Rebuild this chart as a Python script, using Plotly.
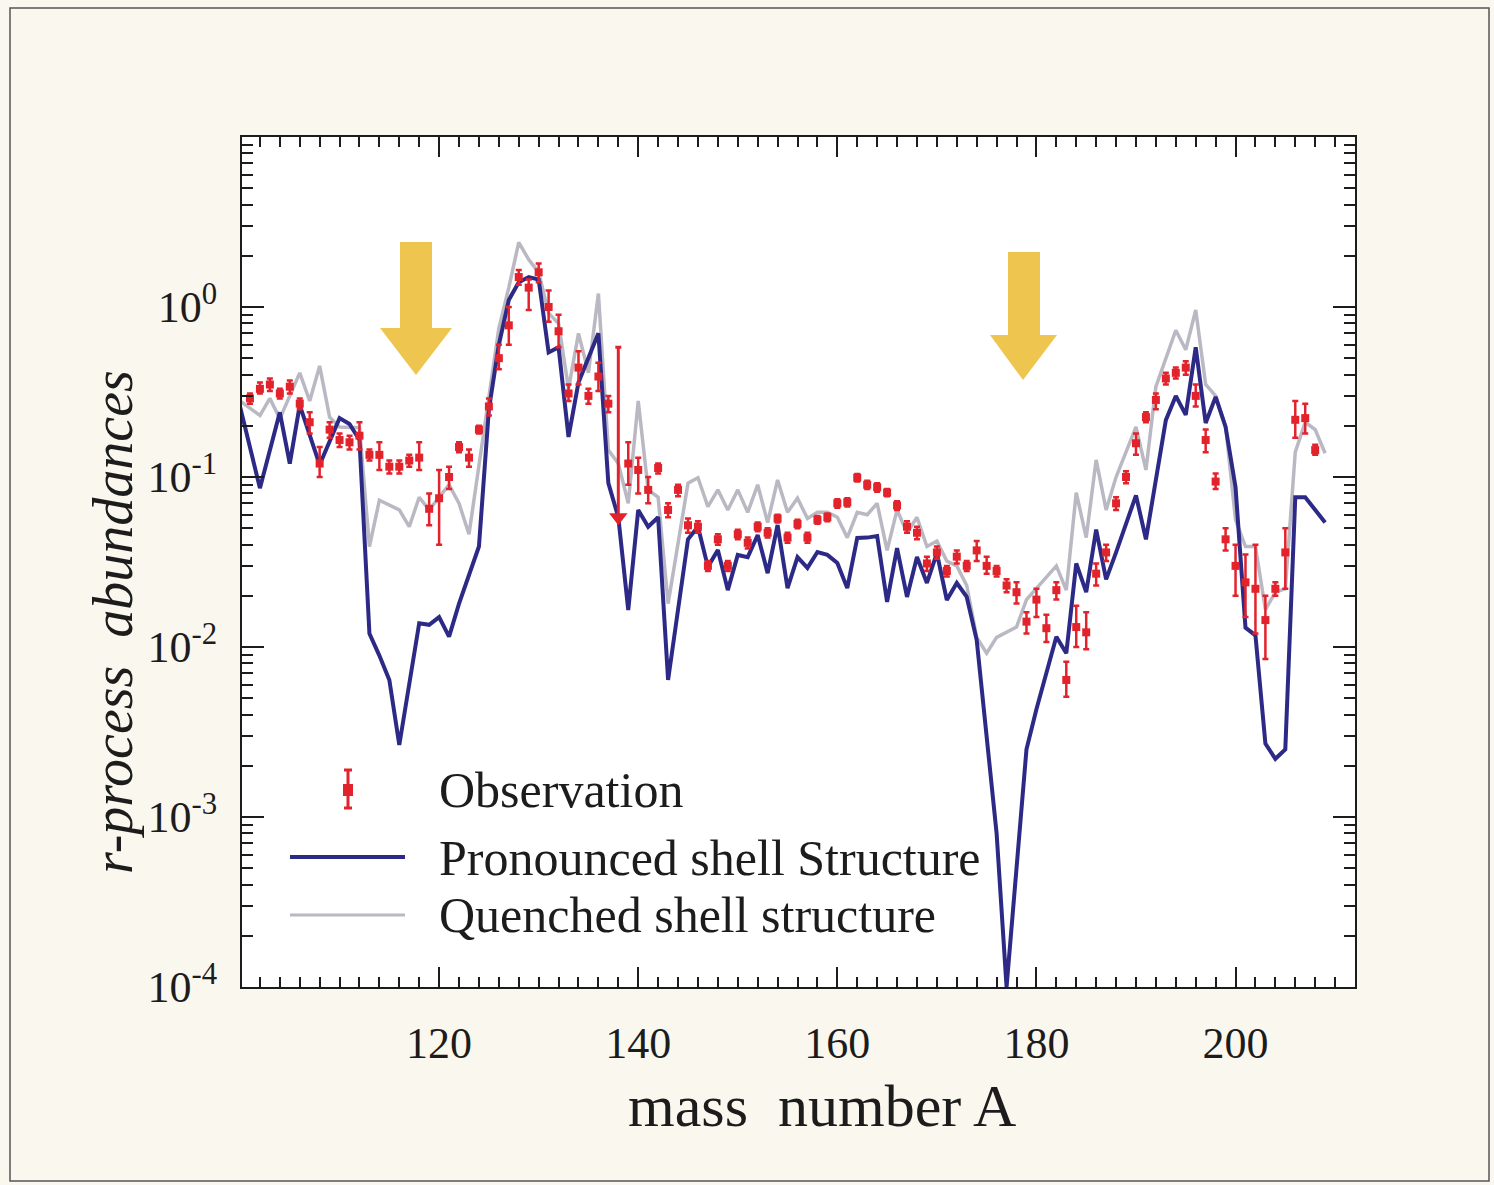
import plotly.graph_objects as go

# ---------------- data ----------------
# Pronounced shell structure (dark blue line)
pron_A = [100, 102, 104, 105, 106, 108, 110, 111, 112, 113, 114, 115, 116, 118, 119, 120, 121, 122, 124, 125,
          126, 127, 128, 129, 130, 131, 132, 133, 134, 136, 137, 138, 139, 140, 141, 142, 143, 145, 146, 147,
          148, 149, 150, 151, 152, 153, 154, 155, 156, 157, 158, 159, 160, 161, 162, 163, 164, 165, 166, 167,
          168, 169, 170, 171, 172, 173, 174, 175, 176, 177, 178, 179, 180, 182, 183, 184, 185, 186, 187, 188,
          190, 191, 193, 194, 195, 196, 197, 198, 199, 200, 201, 202, 203, 204, 205, 206, 207, 209]
pron_y = [0.26, 0.086, 0.24, 0.12, 0.265, 0.118, 0.222, 0.205, 0.165, 0.012, 0.0089, 0.0064, 0.00265, 0.0138,
          0.0135, 0.015, 0.0115, 0.018, 0.039, 0.25, 0.6, 1.1, 1.4, 1.5, 1.45, 0.54, 0.58, 0.172, 0.36, 0.70,
          0.092, 0.058, 0.0165, 0.064, 0.051, 0.058, 0.0064, 0.043, 0.051, 0.0296, 0.0372, 0.0216, 0.0348,
          0.0338, 0.0456, 0.0272, 0.0522, 0.0222, 0.0338, 0.0292, 0.0362, 0.0348, 0.0312, 0.0222, 0.0438,
          0.044, 0.045, 0.0184, 0.0382, 0.0197, 0.0338, 0.0238, 0.0357, 0.0189, 0.0238, 0.0197, 0.011, 0.0031,
          0.0008, 0.0001, 0.0005, 0.0025, 0.0043, 0.0115, 0.0092, 0.031, 0.021, 0.049, 0.025, 0.036, 0.078,
          0.043, 0.216, 0.30, 0.232, 0.58, 0.208, 0.296, 0.197, 0.087, 0.013, 0.0117, 0.0027, 0.0022, 0.0025,
          0.076, 0.076, 0.054]

# Quenched shell structure (grey line)
quen_A = [100, 102, 103, 104, 106, 107, 108, 109, 110, 112, 113, 114, 116, 117, 118, 119, 121, 122, 123, 125,
          126, 127, 128, 129, 130, 131, 132, 133, 134, 135, 136, 137, 138, 139, 140, 141, 142, 143, 145, 146,
          147, 148, 149, 150, 151, 152, 153, 154, 155, 156, 157, 158, 159, 160, 161, 162, 163, 164, 165, 166,
          167, 168, 169, 170, 171, 172, 173, 174, 175, 176, 178, 179, 180, 182, 183, 184, 185, 186, 187, 188,
          190, 191, 192, 194, 195, 196, 197, 198, 199, 200, 201, 202, 203, 204, 205, 206, 207, 208, 209]
quen_y = [0.28, 0.23, 0.29, 0.22, 0.41, 0.28, 0.45, 0.225, 0.197, 0.195, 0.039, 0.073, 0.064, 0.051, 0.076,
          0.064, 0.09, 0.07, 0.046, 0.31, 0.75, 1.3, 2.4, 1.9, 1.6, 0.92, 0.8, 0.33, 0.7, 0.41, 1.2, 0.144,
          0.12, 0.07, 0.28, 0.084, 0.076, 0.018, 0.092, 0.099, 0.067, 0.084, 0.064, 0.084, 0.062, 0.09, 0.054,
          0.096, 0.062, 0.075, 0.057, 0.062, 0.062, 0.058, 0.044, 0.062, 0.06, 0.07, 0.037, 0.064, 0.047, 0.058,
          0.039, 0.042, 0.032, 0.03, 0.023, 0.0114, 0.0092, 0.0114, 0.0131, 0.019, 0.022, 0.030, 0.0216, 0.081,
          0.044, 0.126, 0.064, 0.1, 0.197, 0.11, 0.34, 0.73, 0.56, 0.96, 0.35, 0.3, 0.2, 0.056, 0.039, 0.039,
          0.0166, 0.021, 0.022, 0.14, 0.21, 0.19, 0.138]

# Observation (red points with error bars)
obs_A = [101, 102, 103, 104, 105, 106, 107, 108, 109, 110, 111, 112, 113, 114, 115, 116, 117, 118, 119, 120,
         121, 122, 123, 124, 125, 126, 127, 128, 129, 130, 131, 132, 133, 134, 135, 136, 137, 139, 140, 141,
         142, 143, 144, 145, 146, 147, 148, 149, 150, 151, 152, 153, 154, 155, 156, 157, 158, 159, 160, 161,
         162, 163, 164, 165, 166, 167, 168, 169, 170, 171, 172, 173, 174, 175, 176, 177, 178, 179, 180, 181,
         182, 183, 184, 185, 186, 187, 188, 189, 190, 191, 192, 193, 194, 195, 196, 197, 198, 199, 200, 201,
         202, 203, 204, 205, 206, 207, 208]
obs_y = [0.29, 0.33, 0.35, 0.31, 0.34, 0.27, 0.21, 0.12, 0.19, 0.165, 0.16, 0.175, 0.135, 0.135, 0.115, 0.115,
         0.125, 0.13, 0.065, 0.075, 0.10, 0.15, 0.13, 0.19, 0.26, 0.50, 0.78, 1.5, 1.3, 1.6, 1.0, 0.72, 0.31,
         0.44, 0.30, 0.39, 0.27, 0.12, 0.11, 0.084, 0.113, 0.064, 0.084, 0.052, 0.051, 0.030, 0.043, 0.030,
         0.046, 0.041, 0.051, 0.047, 0.057, 0.044, 0.053, 0.044, 0.056, 0.058, 0.070, 0.071, 0.099, 0.090,
         0.087, 0.081, 0.068, 0.051, 0.047, 0.031, 0.036, 0.028, 0.034, 0.030, 0.037, 0.030, 0.028, 0.023,
         0.021, 0.0141, 0.019, 0.0129, 0.0216, 0.0064, 0.0131, 0.0122, 0.027, 0.036, 0.070, 0.10, 0.158,
         0.225, 0.284, 0.38, 0.41, 0.44, 0.30, 0.165, 0.094, 0.043, 0.030, 0.024, 0.022, 0.0144, 0.022, 0.036,
         0.217, 0.222, 0.144]
obs_lo = [0.27, 0.31, 0.32, 0.29, 0.31, 0.25, 0.18, 0.10, 0.17, 0.15, 0.145, 0.145, 0.125, 0.11, 0.105, 0.105,
          0.115, 0.11, 0.052, 0.04, 0.085, 0.14, 0.115, 0.18, 0.23, 0.43, 0.60, 1.35, 0.96, 1.4, 0.82, 0.58,
          0.28, 0.35, 0.27, 0.32, 0.24, 0.09, 0.08, 0.07, 0.105, 0.058, 0.077, 0.047, 0.047, 0.028, 0.040,
          0.028, 0.043, 0.038, 0.048, 0.044, 0.054, 0.041, 0.050, 0.041, 0.053, 0.055, 0.066, 0.067, 0.094,
          0.085, 0.082, 0.077, 0.064, 0.047, 0.043, 0.028, 0.033, 0.026, 0.031, 0.028, 0.032, 0.027, 0.026,
          0.021, 0.018, 0.012, 0.015, 0.0107, 0.019, 0.0051, 0.010, 0.0097, 0.023, 0.032, 0.064, 0.092, 0.135,
          0.21, 0.25, 0.35, 0.38, 0.40, 0.26, 0.14, 0.085, 0.037, 0.020, 0.015, 0.012, 0.0085, 0.020, 0.022,
          0.17, 0.18, 0.135]
obs_hi = [0.31, 0.36, 0.38, 0.33, 0.37, 0.29, 0.24, 0.15, 0.21, 0.18, 0.175, 0.21, 0.145, 0.16, 0.125, 0.125,
          0.135, 0.16, 0.08, 0.11, 0.115, 0.16, 0.145, 0.20, 0.29, 0.60, 1.0, 1.65, 1.45, 1.8, 1.25, 0.9, 0.35,
          0.55, 0.33, 0.47, 0.30, 0.16, 0.13, 0.10, 0.12, 0.07, 0.09, 0.057, 0.055, 0.032, 0.046, 0.032, 0.049,
          0.044, 0.054, 0.05, 0.06, 0.047, 0.056, 0.047, 0.059, 0.061, 0.074, 0.075, 0.104, 0.095, 0.092,
          0.085, 0.072, 0.055, 0.051, 0.034, 0.039, 0.030, 0.037, 0.032, 0.042, 0.034, 0.030, 0.025, 0.024,
          0.016, 0.022, 0.0155, 0.024, 0.0082, 0.0175, 0.016, 0.031, 0.040, 0.076, 0.108, 0.18, 0.24, 0.31,
          0.41, 0.44, 0.48, 0.35, 0.19, 0.105, 0.05, 0.040, 0.035, 0.040, 0.020, 0.024, 0.050, 0.28, 0.27, 0.155]

# Observation given as an upper limit (down triangle)
lim_A = [138]
lim_y = [0.058]
lim_hi = [0.58]

x_ticks = [120, 140, 160, 180, 200]
y_ticks = [1e-4, 1e-3, 1e-2, 1e-1, 1e0]
y_ticktext = ["10<sup>-4</sup>", "10<sup>-3</sup>", "10<sup>-2</sup>", "10<sup>-1</sup>", "10<sup>0</sup>"]

legend_labels = ["Observation", "Pronounced shell Structure", "Quenched shell structure"]

# ---------------- style ----------------
RED = "#E3232C"
BLUE = "#2C2A86"
GREY = "#BAB8C3"
GOLD = "#EDC244"
FONT = "Liberation Serif"
INK = "#1c1c1c"

fig = go.Figure()

fig.add_trace(go.Scatter(x=quen_A, y=quen_y, mode="lines", name=legend_labels[2],
                         line=dict(color=GREY, width=3.5), showlegend=False))
fig.add_trace(go.Scatter(x=pron_A, y=pron_y, mode="lines", name=legend_labels[1],
                         line=dict(color=BLUE, width=4), showlegend=False))
fig.add_trace(go.Scatter(
    x=obs_A, y=obs_y, mode="markers", name=legend_labels[0], showlegend=False,
    marker=dict(symbol="square", size=8, color=RED),
    error_y=dict(type="data", symmetric=False,
                 array=[h - v for h, v in zip(obs_hi, obs_y)],
                 arrayminus=[v - l for v, l in zip(obs_y, obs_lo)],
                 color=RED, thickness=2.5, width=3)))
fig.add_trace(go.Scatter(
    x=lim_A, y=lim_y, mode="markers", showlegend=False,
    marker=dict(symbol="triangle-down", size=16, color=RED),
    error_y=dict(type="data", symmetric=False,
                 array=[h - v for h, v in zip(lim_hi, lim_y)], arrayminus=[0],
                 color=RED, thickness=3, width=3)))

# ---------------- layout helpers (pixel -> paper) ----------------
L, R, T, B = 242, 1355, 137, 987
W, H = 1494, 1185


def px(xp):
    return (xp - L) / (R - L)


def py(yp):
    return (B - yp) / (B - T)


shapes = []

# big yellow arrows
for (sx0, sx1, sy0, sy1, hx0, hx1, tx, ty) in [(400, 432, 242, 328, 380, 452, 416, 375),
                                               (1008, 1040, 252, 335, 990, 1057, 1023, 380)]:
    path = (f"M {px(sx0)},{py(sy0)} L {px(sx1)},{py(sy0)} L {px(sx1)},{py(sy1)} "
            f"L {px(hx1)},{py(sy1)} L {px(tx)},{py(ty)} L {px(hx0)},{py(sy1)} "
            f"L {px(sx0)},{py(sy1)} Z")
    shapes.append(dict(type="path", xref="paper", yref="paper", path=path,
                       fillcolor=GOLD, line=dict(width=0), opacity=0.95, layer="above"))

# outer frame of the picture
shapes.append(dict(type="rect", xref="paper", yref="paper",
                   x0=px(10), x1=px(1489), y0=py(1181), y1=py(8),
                   line=dict(color="#555555", width=1.5), layer="below"))

# manual legend
shapes += [
    dict(type="line", xref="paper", yref="paper", x0=px(348), x1=px(348), y0=py(808), y1=py(770),
         line=dict(color=RED, width=3)),
    dict(type="line", xref="paper", yref="paper", x0=px(344), x1=px(352), y0=py(770), y1=py(770),
         line=dict(color=RED, width=3)),
    dict(type="line", xref="paper", yref="paper", x0=px(344), x1=px(352), y0=py(808), y1=py(808),
         line=dict(color=RED, width=3)),
    dict(type="rect", xref="paper", yref="paper", x0=px(343), x1=px(353), y0=py(796), y1=py(784),
         fillcolor=RED, line=dict(width=0)),
    dict(type="line", xref="paper", yref="paper", x0=px(290), x1=px(405), y0=py(857), y1=py(857),
         line=dict(color=BLUE, width=4)),
    dict(type="line", xref="paper", yref="paper", x0=px(290), x1=px(405), y0=py(915), y1=py(915),
         line=dict(color=GREY, width=3)),
]

annotations = []
for lab, yy in zip(legend_labels, [790, 858, 915]):
    annotations.append(dict(xref="paper", yref="paper", x=px(437), y=py(yy), text=lab, showarrow=False,
                            xanchor="left", yanchor="middle",
                            font=dict(family=FONT, size=50, color=INK)))

# axis titles
annotations.append(dict(xref="paper", yref="paper", x=px(822), y=py(1106), text="mass  number A",
                        showarrow=False, xanchor="center", yanchor="middle",
                        font=dict(family=FONT, size=60, color=INK)))
annotations.append(dict(xref="paper", yref="paper", x=px(113), y=py(622), text="<i>r-process  abundances</i>",
                        showarrow=False, xanchor="center", yanchor="middle", textangle=-90,
                        font=dict(family=FONT, size=56, color=INK)))

minor_y = [m * 10 ** e for e in range(-4, 1) for m in range(2, 10)]

fig.update_layout(
    width=W, height=H, autosize=False,
    margin=dict(l=L, r=W - R, t=T, b=H - B),
    paper_bgcolor="#FAF7EE", plot_bgcolor="white",
    font=dict(family=FONT, color=INK),
    showlegend=False,
    shapes=shapes, annotations=annotations,
    xaxis=dict(range=[100.2, 212.0], tickmode="array", tickvals=x_ticks,
               ticks="inside", ticklen=20, tickwidth=1.5, tickcolor=INK,
               showline=True, linecolor=INK, linewidth=2, mirror="allticks",
               showgrid=False, zeroline=False,
               tickfont=dict(family=FONT, size=44, color=INK), ticklabelstandoff=16,
               minor=dict(ticks="inside", ticklen=10, tickwidth=1.5, tickcolor=INK,
                          tickmode="linear", tick0=100, dtick=2, showgrid=False)),
    yaxis=dict(type="log", range=[-4, 1], tickmode="array", tickvals=y_ticks, ticktext=y_ticktext,
               ticks="inside", ticklen=22, tickwidth=1.5, tickcolor=INK,
               showline=True, linecolor=INK, linewidth=2, mirror="allticks",
               showgrid=False, zeroline=False,
               tickfont=dict(family=FONT, size=44, color=INK), ticklabelstandoff=14,
               minor=dict(ticks="inside", ticklen=11, tickwidth=1.5, tickcolor=INK,
                          tickmode="array", tickvals=minor_y, showgrid=False)),
)

fig.write_html("out.html")
